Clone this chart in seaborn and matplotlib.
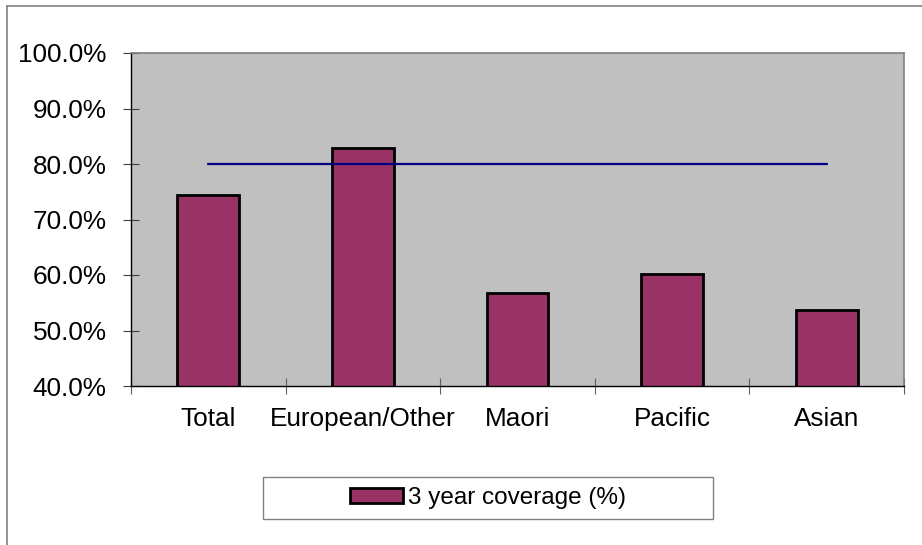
import matplotlib
matplotlib.use("Agg")
import matplotlib.pyplot as plt
import seaborn as sns
from matplotlib.lines import Line2D
from matplotlib.patches import Rectangle
from matplotlib.ticker import FuncFormatter, FixedLocator

# data
categories = ["Total", "European/Other", "Maori", "Pacific", "Asian"]
coverage = [74.5, 82.9, 56.8, 60.1, 53.7]
target = [80.0, 80.0, 80.0, 80.0, 80.0]
series_label = "3 year coverage (%)"

sns.set_style("white")
plt.rcParams["font.family"] = ["Liberation Sans", "DejaVu Sans"]
plt.rcParams["text.color"] = "black"
plt.rcParams["xtick.labelcolor"] = "black"
plt.rcParams["ytick.labelcolor"] = "black"

fig = plt.figure(figsize=(9.22, 5.45), dpi=100)
ax = fig.add_axes([131 / 922, 1 - 386 / 545, 773 / 922, 333 / 545])
ax.set_facecolor("#C0C0C0")

sns.barplot(
    x=categories,
    y=coverage,
    color="#993366",
    saturation=1,
    width=0.4,
    edgecolor="black",
    linewidth=2,
    ax=ax,
)

ax.plot(categories, target, color="#000080", linewidth=1.6)

ax.set_ylim(40, 100)
ax.set_xlim(-0.5, len(categories) - 0.5)
ax.set_yticks([40, 50, 60, 70, 80, 90, 100])
ax.yaxis.set_major_formatter(FuncFormatter(lambda v, p: f"{v:.1f}%"))
ax.tick_params(axis="y", direction="inout", length=11, width=0.8,
               color="#404040", pad=12, labelsize=18.8, left=True)
ax.tick_params(axis="x", which="major", length=0, pad=15, labelsize=18.8)
ax.xaxis.set_minor_locator(FixedLocator([i - 0.5 for i in range(len(categories) + 1)]))
ax.tick_params(axis="x", which="minor", direction="inout", length=12,
               width=0.8, color="#606060", bottom=True)
ax.set_xlabel("")
ax.set_ylabel("")

for side in ["top", "right"]:
    ax.spines[side].set_color("#808080")
    ax.spines[side].set_linewidth(1.2)
for side in ["left", "bottom"]:
    ax.spines[side].set_color("black")
    ax.spines[side].set_linewidth(1.0)

# legend box
fig.patches.append(Rectangle((263 / 922, 1 - 519 / 545), 450 / 922, 42 / 545,
                             transform=fig.transFigure, facecolor="white",
                             edgecolor="#808080", linewidth=1.0))
fig.legend(
    [ax.containers[0]], [series_label],
    loc="center", bbox_to_anchor=(488 / 922, 1 - 498 / 545),
    frameon=False, fontsize=17.5,
    handlelength=2.18, handleheight=0.53, handletextpad=0.2,
)

# outer chart frame
fig.lines.append(Line2D([7 / 922, 1], [1 - 6 / 545, 1 - 6 / 545],
                        transform=fig.transFigure, color="#808080", linewidth=1.2))
fig.lines.append(Line2D([7 / 922, 7 / 922], [0, 1 - 6 / 545],
                        transform=fig.transFigure, color="#808080", linewidth=1.2))

plt.savefig("out.png", dpi=100)
plt.close()
